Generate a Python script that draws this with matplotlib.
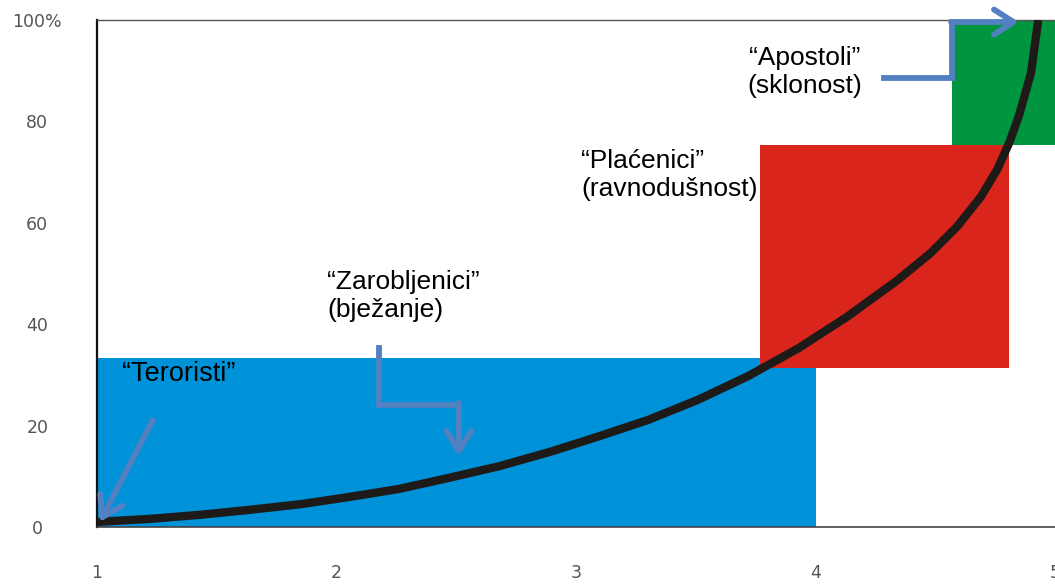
import matplotlib.pyplot as plt

# curve points
curve_x = [1.00, 1.22, 1.43, 1.64, 1.85, 2.05, 2.26, 2.47, 2.68, 2.89,
           3.09, 3.30, 3.51, 3.72, 3.93, 4.13, 4.34, 4.48, 4.59, 4.69,
           4.76, 4.81, 4.85, 4.90, 4.93]
curve_y = [1.0, 1.6, 2.4, 3.4, 4.5, 5.9, 7.5, 9.7, 12.0, 14.8,
           17.8, 21.1, 25.1, 29.8, 35.3, 41.4, 48.6, 54.0, 59.2, 65.1,
           70.6, 75.9, 81.2, 89.6, 100.0]

# coloured zones
box_left = [1.0, 3.77, 4.57]
box_right = [4.0, 4.81, 5.0]
box_bottom = [0.0, 31.4, 75.3]
box_top = [33.4, 75.3, 100.0]
box_colors = ["#0092d9", "#da251d", "#00963f"]

x_ticks = [1, 2, 3, 4, 5]
y_ticks = [0, 20, 40, 60, 80, 100]
y_tick_labels = ["0", "20", "40", "60", "80", "100%"]

arrow_col = "#5280c0"
txt_font = ["Liberation Sans", "DejaVu Sans"]

fig = plt.figure(figsize=(10.55, 5.84), dpi=100)
ax = fig.add_axes([97 / 1055, 57 / 584, 958 / 1055, 507 / 584])

widths = [r - l for l, r in zip(box_left, box_right)]
heights = [t - b for b, t in zip(box_bottom, box_top)]
ax.bar(box_left, heights, width=widths, bottom=box_bottom, align="edge",
       color=box_colors, linewidth=0, zorder=1)

ax.plot(curve_x, curve_y, color="#1e1a17", lw=6, solid_capstyle="butt",
        solid_joinstyle="round", zorder=3)

ax.set_xlim(1, 5)
ax.set_ylim(0, 100)
ax.set_xticks(x_ticks)
ax.set_yticks(y_ticks)
ax.set_yticklabels(y_tick_labels)
ax.tick_params(length=0, labelsize=12.5, labelcolor="#555555")
ax.tick_params(axis="x", pad=27)
ax.tick_params(axis="y", pad=43)
for lab in ax.get_yticklabels():
    lab.set_horizontalalignment("center")

ax.spines["left"].set_color("#111111")
ax.spines["left"].set_linewidth(1.6)
ax.spines["top"].set_color("#555555")
ax.spines["top"].set_linewidth(1.0)
ax.spines["bottom"].set_color("#444444")
ax.spines["bottom"].set_linewidth(1.2)
ax.spines["right"].set_visible(False)

# labels (y is the baseline of the last line)
ax.text(1.104, 28.8, "\u201cTeroristi\u201d", fontsize=19.5, family=txt_font, zorder=5)
ax.text(1.961, 41.4, "\u201cZarobljenici\u201d\n(bježanje)", fontsize=19,
        family=txt_font, linespacing=1.2, zorder=5)
ax.text(3.021, 65.3, "\u201cPlaćenici\u201d\n(ravnodušnost)", fontsize=19,
        family=txt_font, linespacing=1.2, zorder=5)
ax.text(3.955, 85.6, "\u201cApostoli\u201d\n(sklonost)", fontsize=19,
        family=txt_font, linespacing=1.2, ha="center", zorder=5)

# arrows
head = dict(arrowstyle="->,head_length=0.7,head_width=0.45", color=arrow_col,
            lw=4.2, mutation_scale=20, shrinkA=0, shrinkB=0)
ax.annotate("", xy=(1.012, 1.0), xytext=(1.233, 21.1), arrowprops=head, zorder=6)

ax.plot([2.178, 2.178, 2.511], [35.3, 24.1, 24.1], color=arrow_col, lw=4.2,
        solid_joinstyle="miter", zorder=6, clip_on=False)
ax.annotate("", xy=(2.511, 14.0), xytext=(2.511, 24.1 + 0.4), arrowprops=head, zorder=6)

ax.plot([4.288, 4.571, 4.571], [88.6, 88.6, 99.6], color=arrow_col, lw=4.2,
        solid_joinstyle="miter", zorder=6, clip_on=False)
ax.annotate("", xy=(4.849, 99.6), xytext=(4.571 - 0.005, 99.6), arrowprops=head,
            zorder=6, annotation_clip=False)

fig.savefig("out.png", dpi=100)
